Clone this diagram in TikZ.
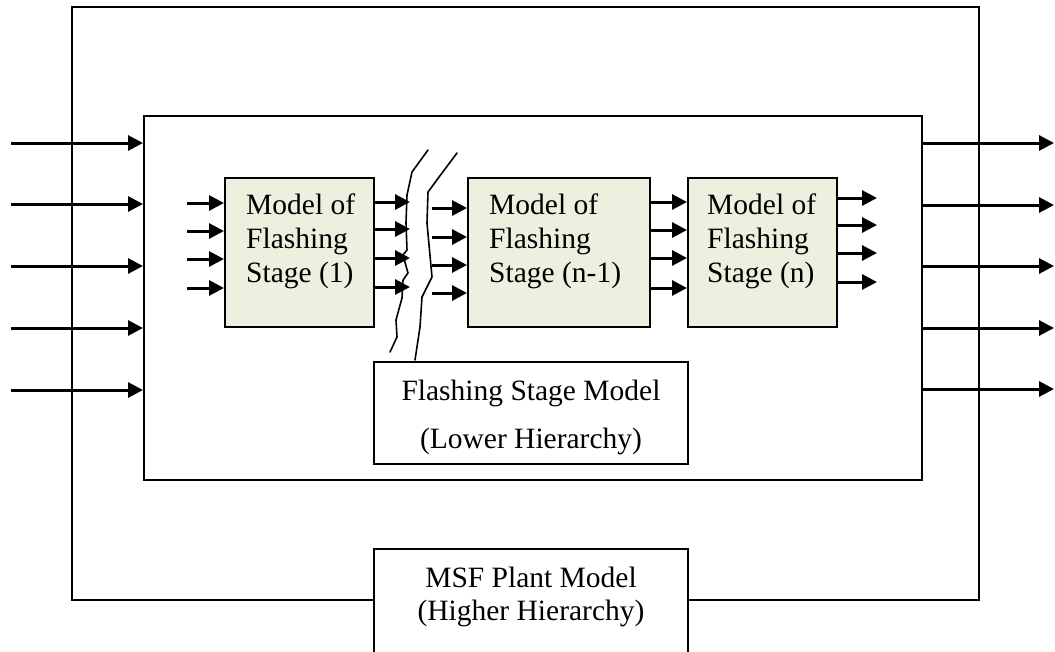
\documentclass[tikz,border=0pt]{standalone}
\usepackage{fontspec}
\setmainfont{Liberation Serif}
\usetikzlibrary{arrows.meta,calc}
\definecolor{stagefill}{RGB}{235,241,222}
\tikzset{
 boxline/.style={draw=black, line width=2pt, rectangle, inner sep=0pt},
 stagebox/.style={boxline, fill=stagefill, minimum height=149pt},
 arr/.style={line width=3pt, -{Triangle[length=15pt,width=15pt]}},
 brk/.style={line width=1.6pt, line join=round, line cap=round},
 lbl/.style={inner sep=0pt, font=\fontsize{29.5}{34}\selectfont},
}
\begin{document}
\begin{tikzpicture}[x=1pt,y=-1pt]
\clip (0,0) rectangle (1055,651);
\fill[white] (0,0) rectangle (1055,651);
% outer and inner frames
\node[boxline, minimum width=907pt, minimum height=593pt] (outer) at (525.5,303.5) {};
\node[boxline, fill=white, minimum width=314pt, minimum height=132pt] (msf) at (531,615) {};
\node[boxline, fill=white, minimum width=778pt, minimum height=364pt] (inner) at (533,298) {};
\node[boxline, fill=white, minimum width=314pt, minimum height=102pt] (fsm) at (531,413) {};
% outer arrows
\foreach \y [count=\i] in {143,204,266,328,390} {
  \coordinate (in\i) at (11,\y);
  \draw[arr] (in\i) -- (in\i -| inner.west);
}
\foreach \y [count=\i] in {143,205,266,328,389} {
  \coordinate (out\i) at (1054,\y);
  \draw[arr] (out\i -| inner.east) -- (out\i);
}
% stages
\node[stagebox, minimum width=149pt] (s1) at (299.5,252.5) {};
\node[stagebox, minimum width=182pt] (sn1) at (559,252.5) {};
\node[stagebox, minimum width=149pt] (sn) at (762.5,252.5) {};
% break lines
\draw[brk] (428,150) -- (412,172) -- (407,195) -- (406,223) -- (407,250) -- (403,255) -- (408,273) -- (403,280) -- (402,298) -- (396,320) -- (397,337) -- (390,352);
\draw[brk] (457,153) -- (442,173) -- (428,192) -- (427,223) -- (432,277) -- (422,297) -- (420,327) -- (415,360);
% stage arrows
\foreach \y [count=\i] in {203,231,259,288} {
  \coordinate (a\i) at (187,\y);
  \draw[arr] (a\i) -- (a\i -| s1.west);
}
\foreach \y [count=\i] in {202,229,258,287} {
  \coordinate (b\i) at (410,\y);
  \draw[arr] (b\i -| s1.east) -- (b\i);
}
\foreach \y [count=\i] in {208,237,265,293} {
  \coordinate (c\i) at (432,\y);
  \draw[arr] (c\i) -- (c\i -| sn1.west);
}
\foreach \y in {202,230,258,288} {
  \draw[arr] (sn1.east |- 0,\y) -- (sn.west |- 0,\y);
}
\foreach \y [count=\i] in {198,225,253,282} {
  \coordinate (d\i) at (877,\y);
  \draw[arr] (d\i -| sn.east) -- (d\i);
}
% texts
\node[lbl, align=left, anchor=north west] (s1txt) at (246,194) {\rule{0pt}{20pt}Model of\\Flashing\\Stage (1)};
\node[lbl, align=left, anchor=north west] (sn1txt) at (489,194) {\rule{0pt}{20pt}Model of\\Flashing\\Stage (n-1)};
\node[lbl, align=left, anchor=north west] (sntxt) at (707,194) {\rule{0pt}{20pt}Model of\\Flashing\\Stage (n)};
\node[lbl, align=center, anchor=north, font=\fontsize{29.5}{48}\selectfont] (fsmtxt) at (531,380) {\rule{0pt}{20pt}Flashing Stage Model\\(Lower Hierarchy)};
\node[lbl, align=center, anchor=north, font=\fontsize{29.5}{33}\selectfont] (msftxt) at (531,567) {\rule{0pt}{20pt}MSF Plant Model\\(Higher Hierarchy)};
\end{tikzpicture}
\end{document}
